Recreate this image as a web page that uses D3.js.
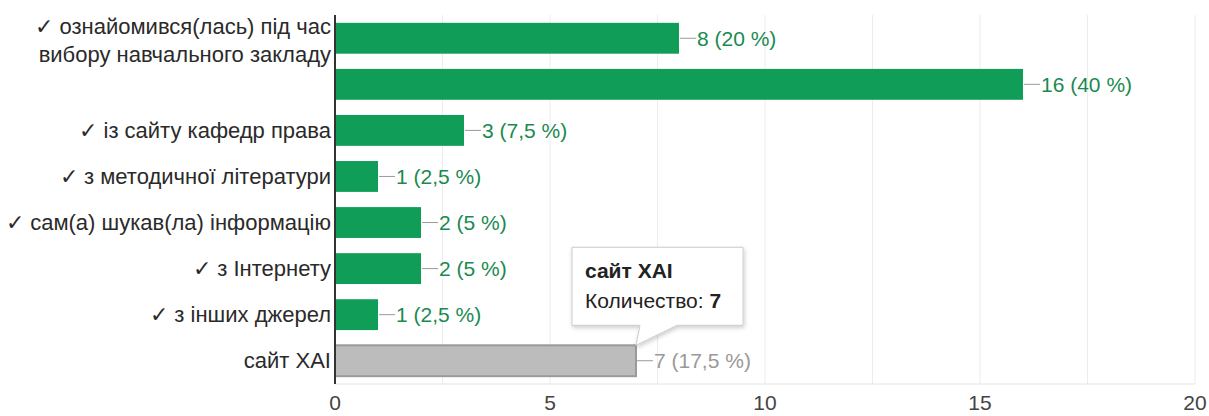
<!DOCTYPE html>
<html>
<head>
<meta charset="utf-8">
<script src="https://cdn.jsdelivr.net/npm/d3@7"></script>
<style>
    body { margin: 0; background: #fff; }
    text { font-family: "Liberation Sans", Arial, sans-serif; }
</style>
</head>
<body>
<div id="chart"></div>
<script>
// answers (first label wraps over two lines, second label is cut off in the original)
const categories = [
    "✓ ознайомився(лась) під час\nвибору навчального закладу",
    "",
    "✓ із сайту кафедр права",
    "✓ з методичної літератури",
    "✓ сам(а) шукав(ла) інформацію",
    "✓ з Інтернету",
    "✓ з інших джерел",
    "сайт ХАІ"
];
const counts = [8, 16, 3, 1, 2, 2, 1, 7];
const percents = ["20 %", "40 %", "7,5 %", "2,5 %", "5 %", "5 %", "2,5 %", "17,5 %"];
const xTicks = [0, 5, 10, 15, 20];
const gridTicks = [2.5, 5, 7.5, 10, 12.5, 15, 17.5, 20];
const highlighted = 7; // index of the hovered bar
const tooltipTitle = "сайт ХАІ";
const tooltipLabel = "Количество: ";

const width = 1209, height = 416;
const margin = {top: 15, right: 14, bottom: 32, left: 335};
const fontSize = "21px";

const svg = d3.select("#chart").append("svg")
    .attr("width", width)
    .attr("height", height);

const x = d3.scaleLinear()
    .domain([0, 20])
    .range([margin.left, width - margin.right]);

const y = d3.scaleBand()
    .domain(d3.range(categories.length))
    .range([margin.top, height - margin.bottom])
    .paddingInner(0.33)
    .paddingOuter(0.17);

const green = "#0f9d58";

// grid
svg.append("g").selectAll("line")
    .data(gridTicks)
    .enter().append("line")
        .attr("x1", d => x(d)).attr("x2", d => x(d))
        .attr("y1", margin.top).attr("y2", height - margin.bottom)
        .style("stroke", "#ececec");

svg.append("line")
    .attr("x1", margin.left).attr("x2", x(20))
    .attr("y1", height - margin.bottom).attr("y2", height - margin.bottom)
    .style("stroke", "#e4e4e4");

// bars
svg.append("g").selectAll("rect")
    .data(counts)
    .enter().append("rect")
        .attr("x", x(0))
        .attr("y", (d, i) => y(i))
        .attr("width", d => x(d) - x(0))
        .attr("height", y.bandwidth())
        .attr("fill", (d, i) => i === highlighted ? "#bcbcbc" : green)
        .attr("stroke", (d, i) => i === highlighted ? "#9a9a9a" : "none")
        .attr("stroke-width", 2);

// value labels with small leader line
const val = svg.append("g").selectAll("g")
    .data(counts)
    .enter().append("g")
        .attr("transform", (d, i) => `translate(${x(d)}, ${y(i) + y.bandwidth() / 2})`);

val.append("line")
    .attr("x1", 1).attr("x2", 17)
    .style("stroke", "#999");

val.append("text")
    .attr("x", 18)
    .attr("dy", "0.35em")
    .style("font-size", fontSize)
    .style("fill", (d, i) => i === highlighted ? "#999" : "#1a8a50")
    .text((d, i) => `${d} (${percents[i]})`);

// category labels
const lab = svg.append("g").selectAll("text")
    .data(categories)
    .enter().append("text")
        .attr("text-anchor", "end")
        .attr("x", margin.left - 4)
        .attr("y", (d, i) => y(i) + y.bandwidth() / 2)
        .style("font-size", "22px")
        .style("fill", "#2a2a2a");

lab.each(function(d) {
    const lines = d.split("\n");
    const t = d3.select(this);
    lines.forEach((l, k) => {
        t.append("tspan")
            .attr("x", margin.left - 4)
            .attr("dy", k === 0 ? `${0.35 - (lines.length - 1) * 0.55}em` : "1.3em")
            .text(l);
    });
});

// y axis line
svg.append("line")
    .attr("x1", margin.left).attr("x2", margin.left)
    .attr("y1", margin.top).attr("y2", height - margin.bottom)
    .style("stroke", "#333")
    .style("stroke-width", 2);

// x axis tick labels
svg.append("g").selectAll("text")
    .data(xTicks)
    .enter().append("text")
        .attr("x", d => x(d))
        .attr("y", height - 6)
        .attr("text-anchor", "middle")
        .style("font-size", fontSize)
        .style("fill", "#444")
        .text(d => d);

// tooltip for the hovered bar
const tipX = x(counts[highlighted]);
const tipY = y(highlighted);
const box = {x: tipX - 64, y: tipY - 98, w: 171, h: 78};

const defs = svg.append("defs");
const filter = defs.append("filter").attr("id", "shadow")
    .attr("x", "-10%").attr("y", "-10%").attr("width", "130%").attr("height", "140%");
filter.append("feDropShadow")
    .attr("dx", 1).attr("dy", 2).attr("stdDeviation", 2)
    .attr("flood-color", "#000").attr("flood-opacity", 0.2);

const tip = svg.append("g");
const path = d3.path();
path.moveTo(box.x, box.y);
path.lineTo(box.x + box.w, box.y);
path.lineTo(box.x + box.w, box.y + box.h);
path.lineTo(box.x + 105, box.y + box.h);
path.lineTo(tipX, tipY);
path.lineTo(box.x + 68, box.y + box.h);
path.lineTo(box.x, box.y + box.h);
path.closePath();

tip.append("path")
    .attr("d", path.toString())
    .attr("fill", "#fff")
    .attr("stroke", "#ccc")
    .attr("filter", "url(#shadow)");

tip.append("text")
    .attr("x", box.x + 13)
    .attr("y", box.y + 31)
    .style("font-size", "21px")
    .style("font-weight", "bold")
    .style("fill", "#222")
    .text(tooltipTitle);

const t2 = tip.append("text")
    .attr("x", box.x + 13)
    .attr("y", box.y + 61)
    .style("font-size", "21px")
    .style("fill", "#222");
t2.append("tspan").text(tooltipLabel);
t2.append("tspan").style("font-weight", "bold").text(counts[highlighted]);
</script>
</body>
</html>
